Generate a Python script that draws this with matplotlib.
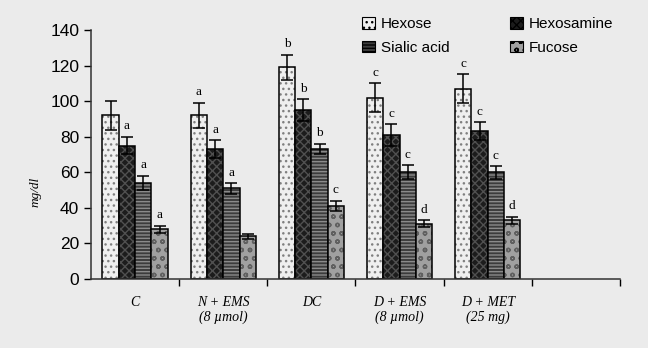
import matplotlib
matplotlib.use("Agg")
import matplotlib.pyplot as plt
import numpy as np

groups = ["C", "N + EMS\n(8 \u00b5mol)", "DC", "D + EMS\n(8 \u00b5mol)", "D + MET\n(25 mg)"]
series = ["Hexose", "Hexosamine", "Sialic acid", "Fucose"]

hexose = [92, 92, 119, 102, 107]
hexosamine = [75, 73, 95, 81, 83]
sialic = [54, 51, 73, 60, 60]
fucose = [28, 24, 41, 31, 33]

hexose_err = [8, 7, 7, 8, 8]
hexosamine_err = [5, 5, 6, 6, 5]
sialic_err = [4, 3, 3, 4, 3.5]
fucose_err = [2, 1.5, 3, 2, 2]

hexose_lab = ["", "a", "b", "c", "c"]
hexosamine_lab = ["a", "a", "b", "c", "c"]
sialic_lab = ["a", "a", "b", "c", "c"]
fucose_lab = ["a", "", "c", "d", "d"]

values = [hexose, hexosamine, sialic, fucose]
errors = [hexose_err, hexosamine_err, sialic_err, fucose_err]
letters = [hexose_lab, hexosamine_lab, sialic_lab, fucose_lab]

# face, hatch, hatch colour
styles = [("#efefef", "...", "#808080"),
          ("#1c1c1c", "xxxx", "#505050"),
          ("#3c3c3c", "-----", "#8a8a8a"),
          ("#a0a0a0", "oo", "#606060")]

bg = "#ebebeb"
fig = plt.figure(figsize=(6.48, 3.48), dpi=100, facecolor=bg)
ax = fig.add_axes([0.1404, 0.1983, 0.8164, 0.7155])
ax.set_facecolor(bg)

x = np.arange(len(groups))
w = 0.185
handles = []
for i, (vals, errs, labs) in enumerate(zip(values, errors, letters)):
    face, hatch, hc = styles[i]
    pos = x + (i - 1.5) * w
    ax.bar(pos, vals, w, color=face, edgecolor=hc, hatch=hatch, linewidth=0)
    ax.bar(pos, vals, w, fill=False, edgecolor="black", linewidth=1.1)
    ax.errorbar(pos, vals, yerr=errs, fmt="none", ecolor="black",
                elinewidth=1.1, capsize=4, capthick=1.1)
    for p, v, e, t in zip(pos, vals, errs, labs):
        if t:
            ax.text(p, v + e + 2.5, t, ha="center", va="bottom",
                    family="Liberation Serif", fontsize=9.5)
    h = matplotlib.patches.Patch(facecolor=face, edgecolor="black",
                                 hatch=hatch, linewidth=0.8)
    handles.append(h)

ax.set_xlim(-0.5, 5.5)
ax.set_ylim(0, 140)
ax.set_yticks(np.arange(0, 141, 20))
ax.tick_params(axis="y", labelsize=12.5, length=5, width=1, direction="out")
for t in ax.get_yticklabels():
    t.set_family("Liberation Sans")

ax.set_xticks(x)
ax.set_xticklabels(groups, family="Liberation Serif", style="italic", fontsize=10)
ax.tick_params(axis="x", length=0, pad=12)
ax.set_xticks(np.arange(0.5, 5.6, 1), minor=True)
ax.tick_params(axis="x", which="minor", length=5, width=1, direction="out")

for s in ["top", "right"]:
    ax.spines[s].set_visible(False)
for s in ["left", "bottom"]:
    ax.spines[s].set_color("#333333")
    ax.spines[s].set_linewidth(1.1)

ax.set_ylabel("mg/dl", family="Liberation Serif", style="italic", fontsize=9.5)
ax.yaxis.set_label_coords(-0.094, 0.35)

# row-major order for a 2-column legend
order = [0, 2, 1, 3]
fig.legend([handles[k] for k in order], [series[k] for k in order], ncol=2,
           loc="upper left", bbox_to_anchor=(0.538, 0.99),
           frameon=False, prop={"family": "Liberation Sans", "size": 11},
           handlelength=0.8, handleheight=0.8, handletextpad=0.4,
           columnspacing=4.0, labelspacing=0.6)

fig.savefig("out.png", dpi=100, facecolor=bg)
